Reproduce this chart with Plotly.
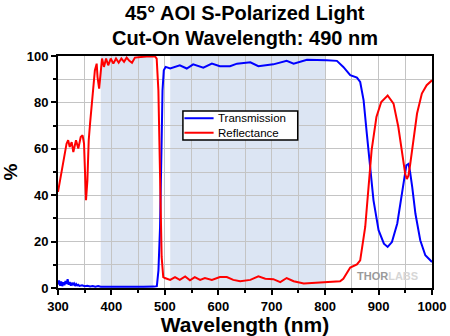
import plotly.graph_objects as go

# Transmission curve (S-polarized, 45 deg AOI)
trans_wl = [300, 302, 304, 306, 308, 310, 312, 314, 316, 318, 320, 322, 324, 326, 328, 330,
            332, 334, 336, 338, 340, 345, 350, 355, 360, 365, 370, 375, 380, 390, 400, 420,
            440, 460, 480, 485, 488, 491, 494, 495.6, 498, 501.5, 510, 528, 541, 553, 572,
            588, 603, 622, 635, 660, 675, 703, 728, 741, 766, 791, 803, 822, 829, 834, 847,
            859.5, 865.6, 872, 878, 884, 890.5, 900, 910, 917, 925, 935, 944, 952, 956, 959,
            963, 969, 978, 987.5, 1000]
trans_pct = [1.5, 3.2, 1.0, 2.8, 0.8, 2.5, 1.2, 3.0, 1.8, 3.8, 1.4, 2.6, 1.0, 2.2, 1.5, 2.0,
             0.9, 1.7, 1.1, 1.4, 0.9, 1.2, 0.8, 1.0, 0.7, 0.9, 0.6, 0.8, 0.5, 0.6, 0.5, 0.5,
             0.4, 0.5, 0.6, 0.8, 7.6, 26.3, 63.7, 85.2, 93.8, 95.3, 94.6, 96.0, 94.6, 96.4, 95.0,
             96.7, 95.6, 95.6, 96.7, 97.3, 95.6, 96.4, 97.9, 96.7, 98.4, 98.4, 98.2, 97.9, 96.5, 95.3, 91.7,
             90.7, 88.8, 80.9, 66.5, 52.2, 37.8, 24.9, 19.1, 17.7, 19.8, 27.8, 42.1, 52.9, 53.5, 50.0,
             43.5, 32.0, 20.6, 14.1, 11.2]

# Reflectance curve
refl_wl = [300, 303.7, 310, 316, 319, 322, 325.6, 328.7, 333.7, 338, 342.5, 346, 348.7, 350.6,
           352.4, 355, 357.5, 360, 365, 369, 372.4, 374, 377, 380, 382.4, 386, 390, 394, 398.7,
           403.6, 408.6, 413.6, 418.6, 423.6, 428.5, 433.6, 438.5, 444, 453.6, 466, 481.6, 484.7,
           487.9, 491, 494, 497, 500, 510, 519, 528, 538, 547, 556, 566, 575, 588, 603, 616, 628,
           641, 660, 675, 688, 703, 716, 728, 741, 760, 785, 803, 828, 834, 847, 859.5, 865.6, 875,
           881, 887, 896, 905, 917, 928, 937, 945, 950, 953, 956, 959, 963, 972, 981, 990, 1000]
refl_pct = [41.4, 46.4, 53.6, 62.2, 63.7, 60.8, 62.9, 58.6, 63.7, 60.1, 65.1, 65.8, 62.2, 49.3,
            37.8, 46.4, 63.7, 70.9, 83.8, 93.8, 96.7, 90.9, 85.9, 92.4, 98.9, 95.3, 98.9, 96.0, 98.9,
            96.7, 98.9, 97.1, 98.9, 97.5, 99.3, 97.9, 97.1, 99.3, 99.6, 99.8, 99.8, 98.9,
            85.2, 49.3, 13.4, 4.7, 4.3, 3.5, 4.7, 3.5, 5.0, 3.3, 4.7, 3.5, 4.3, 3.5, 4.7, 4.7, 3.5,
            2.9, 3.5, 5.0, 4.0, 3.8, 2.5, 4.3, 2.9, 1.9, 2.2, 2.6, 2.9, 4.0, 8.8, 10.2, 11.9, 26.3,
            43.5, 59.4, 73.7, 80.2, 83.0, 79.5, 69.4, 57.9, 49.0, 47.0, 48.5, 53.0, 59.4, 75.2, 83.8, 87.4, 89.5]

# Design bands (reflection band and transmission band), nm
bands = [(380, 478), (510, 800)]

x_ticks = [300, 400, 500, 600, 700, 800, 900, 1000]
y_ticks = [0, 20, 40, 60, 80, 100]

series = [("Transmission", trans_wl, trans_pct, "#0000ff"),
          ("Reflectance", refl_wl, refl_pct, "#ff0000")]

FONT = "Arial, Liberation Sans, sans-serif"

fig = go.Figure()
for name, xs, ys, color in series:
    fig.add_trace(go.Scatter(x=xs, y=ys, mode="lines", name=name,
                             line=dict(color=color, width=2), showlegend=False))

for lo, hi in bands:
    fig.add_shape(type="rect", xref="x", yref="y", x0=lo, x1=hi, y0=0, y1=100,
                  fillcolor="#dce5f3", line=dict(width=0), layer="below")

# Compact boxed legend inside the plot area (paper coordinates)
leg_x0, leg_x1, leg_y1, leg_y0 = 0.334, 0.641, 0.763, 0.638
row_h = (leg_y1 - leg_y0) / 2
fig.add_shape(type="rect", xref="paper", yref="paper", x0=leg_x0, x1=leg_x1, y0=leg_y0, y1=leg_y1,
              fillcolor="white", line=dict(color="black", width=1.5), layer="above")
for i, (name, _, _, color) in enumerate(series):
    yc = leg_y1 - row_h * (i + 0.5)
    fig.add_shape(type="line", xref="paper", yref="paper", x0=leg_x0 + 0.004, x1=leg_x0 + 0.082,
                  y0=yc, y1=yc, line=dict(color=color, width=2), layer="above")
    fig.add_annotation(text=name, xref="paper", yref="paper", x=leg_x0 + 0.089, y=yc,
                       xanchor="left", yanchor="middle", showarrow=False,
                       font=dict(family=FONT, size=11.5, color="black"))

axis_common = dict(
    showline=True, linecolor="black", linewidth=2, mirror=True,
    ticks="outside", ticklen=5, tickwidth=2, tickcolor="black",
    showgrid=True, gridcolor="#c4c4c4", gridwidth=1, zeroline=False,
    automargin=False,
    tickfont=dict(family=FONT, size=13, color="black", weight="bold"),
)

fig.update_xaxes(range=[300, 1000], tickvals=x_ticks,
                 minor=dict(dtick=50, ticks="outside", ticklen=3, tickwidth=1.5,
                            tickcolor="black", showgrid=True, gridcolor="#c4c4c4"),
                 title=dict(text="<b>Wavelength (nm)</b>", font=dict(family=FONT, size=21, color="black"),
                            standoff=1),
                 **axis_common)
fig.update_yaxes(range=[0, 100], tickvals=y_ticks,
                 minor=dict(dtick=10, ticks="outside", ticklen=3, tickwidth=1.5,
                            tickcolor="black", showgrid=True, gridcolor="#c4c4c4"),
                 title=dict(text="<b>%</b>", font=dict(family=FONT, size=19, color="black"),
                            standoff=6),
                 **axis_common)

# Two-line heading, placed above the plot area
fig.add_annotation(text="<b>45° AOI S-Polarized Light</b>", xref="paper", yref="paper",
                   x=0.5, y=1.0, xanchor="center", yanchor="middle", yshift=43,
                   showarrow=False, font=dict(family=FONT, size=20, color="black"))
fig.add_annotation(text="<b>Cut-On Wavelength: 490 nm</b>", xref="paper", yref="paper",
                   x=0.5, y=1.0, xanchor="center", yanchor="middle", yshift=18,
                   showarrow=False, font=dict(family=FONT, size=20, color="black"))
fig.add_annotation(text="<b><span style='color:#9a9a9a'>THOR</span><span style='color:#d6d6d6'>LABS</span></b>",
                   xref="x", yref="y", x=916, y=5.3, xanchor="center", yanchor="middle",
                   showarrow=False, font=dict(family=FONT, size=11))

fig.update_layout(
    width=450, height=336,
    margin=dict(l=58, r=18, t=56, b=48),
    paper_bgcolor="white", plot_bgcolor="white",
    showlegend=False,
    font=dict(family=FONT),
)

fig.write_html("out.html")
